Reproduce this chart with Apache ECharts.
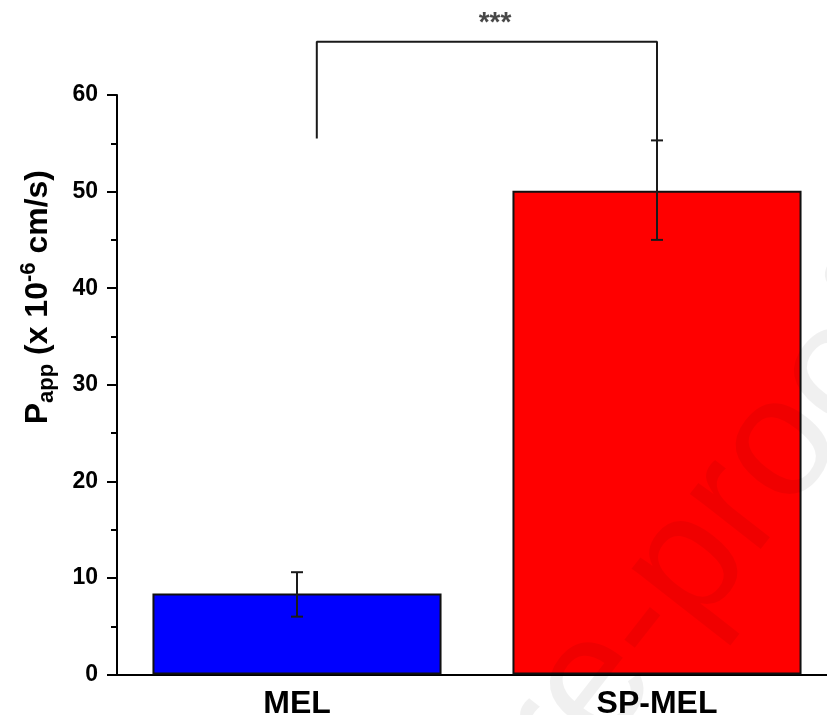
<!DOCTYPE html>
<html>
<head>
<meta charset="utf-8">
<script src="https://cdn.jsdelivr.net/npm/echarts@6/dist/echarts.min.js"></script>
<style>
html,body{margin:0;padding:0;background:#fff;}
#chart{width:827px;height:715px;}
</style>
</head>
<body>
<div id="chart"></div>
<script>
// ---- data ----
const categories = ['MEL', 'SP-MEL'];
const meanValues = [8.4, 50.1];
const errLow = [6.0, 45.0];
const errHigh = [10.6, 55.3];
const barColors = ['#0000ff', '#ff0000'];
const yTicks = [0, 10, 20, 30, 40, 50, 60];
const yTitleParts = ['P', 'app', ' (x 10', '-6', ' cm/s)'];
const watermark = 'Journal Pre-proof';
// significance bracket: [x position on hidden value axis, y value]
const bracketX = [0.055, 0.055, 1.0, 1.0];
const bracketY = [55.5, 65.5, 65.5, 55.3];
const sigLabel = '***';
const sigPos = [0.55, 67.4];

const chart = echarts.init(document.getElementById('chart'), null, {renderer: 'canvas'});
const FONT = '"Liberation Sans", Arial, Helvetica, sans-serif';

const option = {
  animation: false,
  backgroundColor: '#ffffff',
  grid: {left: 117, top: 95, width: 720, height: 579.6, containLabel: false, outerBoundsMode: 'none'},
  xAxis: [{
    type: 'category',
    data: categories,
    axisLine: {show: true, lineStyle: {color: '#000', width: 2}},
    axisTick: {show: false},
    axisLabel: {color: '#000', fontFamily: FONT, fontWeight: 'bold', fontSize: 32, margin: 14},
    splitLine: {show: false}
  }, {
    type: 'value', min: -0.5, max: 1.5, show: false
  }],
  yAxis: {
    type: 'value',
    min: yTicks[0], max: yTicks[yTicks.length - 1], interval: 10,
    axisLine: {show: true, onZero: false, lineStyle: {color: '#000', width: 2}},
    axisTick: {show: true, inside: false, length: 10, lineStyle: {color: '#000', width: 2}},
    minorTick: {show: true, splitNumber: 2, length: 6, lineStyle: {color: '#000', width: 2}},
    axisLabel: {color: '#000', fontFamily: FONT, fontWeight: 'bold', fontSize: 23, margin: 19},
    splitLine: {show: false}
  },
  graphic: [{
    type: 'text',
    left: 18,
    top: 170,
    rotation: Math.PI / 2,
    style: {
      text: '{m|' + yTitleParts[0] + '}{s|' + yTitleParts[1] + '}{m|' + yTitleParts[2] + '}{u|' + yTitleParts[3] + '}{m|' + yTitleParts[4] + '}',
      rich: {
        m: {fontFamily: FONT, fontWeight: 'bold', fontSize: 32, lineHeight: 40, verticalAlign: 'middle', fill: '#000'},
        s: {fontFamily: FONT, fontWeight: 'bold', fontSize: 22, lineHeight: 22, verticalAlign: 'bottom', fill: '#000'},
        u: {fontFamily: FONT, fontWeight: 'bold', fontSize: 22, lineHeight: 22, verticalAlign: 'top', fill: '#000'}
      }
    }
  }, {
    type: 'text',
    x: 964,
    y: 351,
    rotation: 52 * Math.PI / 180,
    z: 100,
    silent: true,
    style: {
      text: watermark,
      textAlign: 'right',
      textVerticalAlign: 'bottom',
      font: '170px "Liberation Sans", Arial, sans-serif',
      fill: 'rgba(0,0,0,0.06)'
    }
  }],
  series: [{
    type: 'bar',
    xAxisIndex: 0,
    barWidth: '80.3%',
    data: meanValues.map((v, i) => ({
      value: v,
      itemStyle: {color: barColors[i], borderColor: '#111', borderWidth: 2}
    }))
  }, {
    type: 'custom',
    xAxisIndex: 0,
    data: categories.map((c, i) => [i, errLow[i], errHigh[i]]),
    encode: {x: 0, y: [1, 2]},
    z: 5,
    renderItem: function (params, api) {
      const lo = api.coord([api.value(0), api.value(1)]);
      const hi = api.coord([api.value(0), api.value(2)]);
      const hw = 6;
      const st = {stroke: '#1a1a1a', lineWidth: 2};
      return {type: 'group', children: [
        {type: 'line', shape: {x1: hi[0], y1: hi[1], x2: lo[0], y2: lo[1]}, style: st},
        {type: 'line', shape: {x1: hi[0] - hw, y1: hi[1], x2: hi[0] + hw, y2: hi[1]}, style: st},
        {type: 'line', shape: {x1: lo[0] - hw, y1: lo[1], x2: lo[0] + hw, y2: lo[1]}, style: st}
      ]};
    }
  }, {
    type: 'line',
    xAxisIndex: 1,
    clip: false,
    symbol: 'none',
    lineStyle: {color: '#1a1a1a', width: 2},
    data: bracketX.map((x, i) => [x, bracketY[i]]),
    z: 6
  }, {
    type: 'scatter',
    xAxisIndex: 1,
    clip: false,
    symbolSize: 1,
    itemStyle: {color: 'rgba(0,0,0,0)'},
    label: {show: true, position: 'inside', formatter: sigLabel, color: '#1a1a1a', fontFamily: FONT, fontWeight: 'bold', fontSize: 28},
    data: [sigPos]
  }]
};
chart.setOption(option);
</script>
</body>
</html>
